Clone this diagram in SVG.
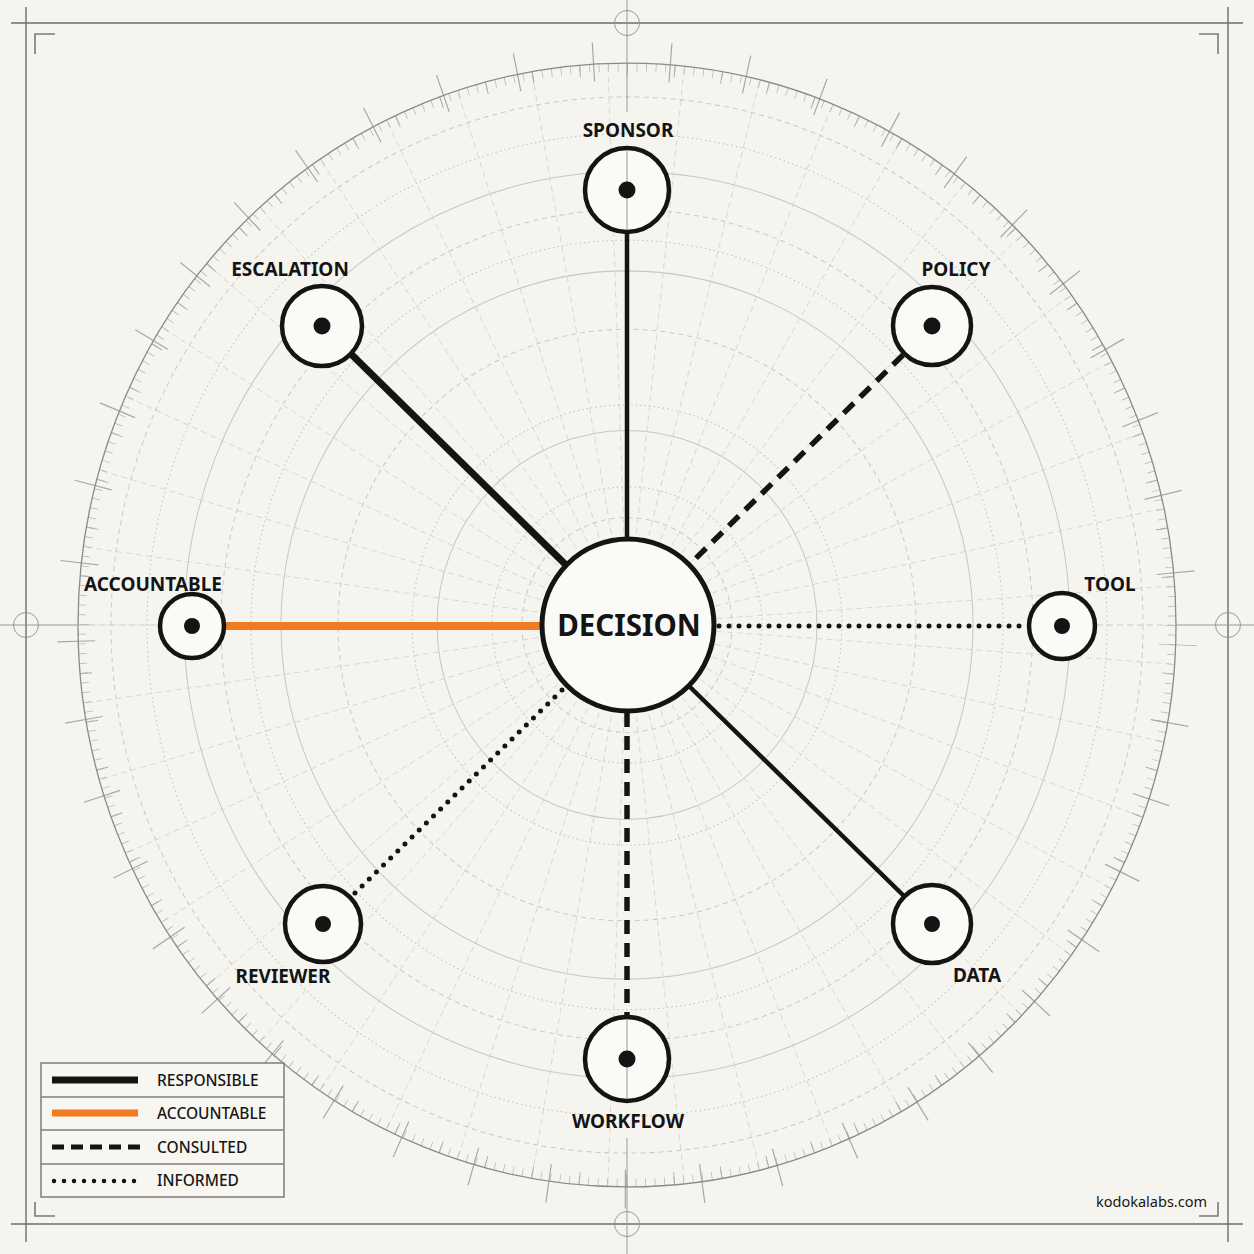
<svg xmlns="http://www.w3.org/2000/svg" xmlns:xlink="http://www.w3.org/1999/xlink" width="1254" height="1254" viewBox="0 0 1254 1254">
<style>
  .ring-s{fill:none;stroke:#c6c6c3;stroke-width:1}
  .ring-d{fill:none;stroke:#c9c9c6;stroke-width:1;stroke-dasharray:5 4}
  .ring-o{fill:none;stroke:#c0c0bc;stroke-width:1;stroke-dasharray:1.5 3}
  .ray{stroke:#d2d2ce;stroke-width:0.8;stroke-dasharray:6 4}
  .frame{stroke:#6e6e6e;stroke-width:1.4;fill:none}
  .bracket{stroke:#7a7a7a;stroke-width:1.6;fill:none}
  .axis{stroke:#8e8e8e;stroke-width:0.9;fill:none}
  .node{fill:#fbfaf7;stroke:#141414;stroke-width:4.5}
  .dot{fill:#141414}
  .lbl{font-family:"Noto Sans","Open Sans","Liberation Sans",sans-serif;font-weight:700;font-size:19px;fill:#141414;text-anchor:middle}
  .leg{font-family:"Noto Sans","Open Sans","Liberation Sans",sans-serif;font-weight:500;font-size:15.5px;fill:#161616}
  .resp{stroke:#141414;fill:none}
  .acc{stroke:#ef7b22;fill:none}
  .cons{stroke:#141414;fill:none;stroke-dasharray:14 9}
  .inf{stroke:#141414;fill:none;stroke-linecap:round;stroke-dasharray:0 10}
</style>
<defs>
  <line id="ray" x1="0" y1="0" x2="549" y2="0" class="ray"/>
</defs>
<rect width="1254" height="1254" fill="#f6f4ef"/>

<g id="frame">
  <line class="frame" x1="11" y1="23" x2="1243" y2="23"/>
  <line class="frame" x1="11" y1="1224" x2="1243" y2="1224"/>
  <line class="frame" x1="26" y1="7" x2="26" y2="1242"/>
  <line class="frame" x1="1228" y1="7" x2="1228" y2="1242"/>
  <path class="bracket" d="M35 54 V34 H55"/>
  <path class="bracket" d="M1199 34 H1218 V54"/>
  <path class="bracket" d="M35 1202 V1216 H55"/>
  <path class="bracket" d="M1199 1216 H1218 V1202"/>
  <circle class="axis" cx="627" cy="23" r="12.5" stroke="#6e6e6e"/>
  <circle class="axis" cx="627" cy="1224" r="12.5" stroke="#6e6e6e"/>
  <circle class="axis" cx="26" cy="625" r="12.5" stroke="#6e6e6e"/>
  <circle class="axis" cx="1228" cy="625" r="12.5" stroke="#6e6e6e"/>
</g>

<g id="grid" transform="translate(627 625) scale(1 1.0235)">
  <circle class="ring-d" r="105"/>
  <circle class="ring-o" r="135"/>
  <circle class="ring-s" r="190"/>
  <circle class="ring-o" r="215"/>
  <circle class="ring-d" r="289"/>
  <circle class="ring-s" r="346"/>
  <circle class="ring-o" r="376"/>
  <circle class="ring-d" r="406"/>
  <circle class="ring-s" r="443"/>
  <circle class="ring-o" r="480"/>
  <circle class="ring-d" r="516"/>
  <use href="#ray" transform="rotate(4)"/>
  <use href="#ray" transform="rotate(12)"/>
  <use href="#ray" transform="rotate(20)"/>
  <use href="#ray" transform="rotate(28)"/>
  <use href="#ray" transform="rotate(36)"/>
  <use href="#ray" transform="rotate(44)"/>
  <use href="#ray" transform="rotate(52)"/>
  <use href="#ray" transform="rotate(60)"/>
  <use href="#ray" transform="rotate(68)"/>
  <use href="#ray" transform="rotate(76)"/>
  <use href="#ray" transform="rotate(84)"/>
  <use href="#ray" transform="rotate(92)"/>
  <use href="#ray" transform="rotate(100)"/>
  <use href="#ray" transform="rotate(108)"/>
  <use href="#ray" transform="rotate(116)"/>
  <use href="#ray" transform="rotate(124)"/>
  <use href="#ray" transform="rotate(132)"/>
  <use href="#ray" transform="rotate(140)"/>
  <use href="#ray" transform="rotate(148)"/>
  <use href="#ray" transform="rotate(156)"/>
  <use href="#ray" transform="rotate(164)"/>
  <use href="#ray" transform="rotate(172)"/>
  <use href="#ray" transform="rotate(180)"/>
  <use href="#ray" transform="rotate(188)"/>
  <use href="#ray" transform="rotate(196)"/>
  <use href="#ray" transform="rotate(204)"/>
  <use href="#ray" transform="rotate(212)"/>
  <use href="#ray" transform="rotate(220)"/>
  <use href="#ray" transform="rotate(228)"/>
  <use href="#ray" transform="rotate(236)"/>
  <use href="#ray" transform="rotate(244)"/>
  <use href="#ray" transform="rotate(252)"/>
  <use href="#ray" transform="rotate(260)"/>
  <use href="#ray" transform="rotate(268)"/>
  <use href="#ray" transform="rotate(276)"/>
  <use href="#ray" transform="rotate(284)"/>
  <use href="#ray" transform="rotate(292)"/>
  <use href="#ray" transform="rotate(300)"/>
  <use href="#ray" transform="rotate(308)"/>
  <use href="#ray" transform="rotate(316)"/>
  <use href="#ray" transform="rotate(324)"/>
  <use href="#ray" transform="rotate(332)"/>
  <use href="#ray" transform="rotate(340)"/>
  <use href="#ray" transform="rotate(348)"/>
  <use href="#ray" transform="rotate(356)"/>
  <use href="#ray" transform="rotate(0)"/>
  <!-- minor ticks every 1 degree -->
  <circle r="545" fill="none" stroke="#b4b4b0" stroke-width="8" stroke-dasharray="0.7 8.812"/>
  <!-- mid ticks every 5 degrees -->
  <circle r="543" fill="none" stroke="#acaca8" stroke-width="12" stroke-dasharray="0.9 46.486" stroke-dashoffset="0.45"/>
  <!-- long ticks every 8 degrees -->
  <circle r="551" fill="none" stroke="#a8a8a4" stroke-width="38" stroke-dasharray="1.2 75.874" stroke-dashoffset="0.6" transform="rotate(2)"/>
  <circle r="549" fill="none" stroke="#8a8a86" stroke-width="1.3"/>
</g>

<g id="axes">
  <line class="axis" x1="0" y1="625" x2="78" y2="625" stroke="#7a7a7a"/>
  <line class="axis" x1="1176" y1="625" x2="1254" y2="625" stroke="#7a7a7a"/>
  <line class="ray" x1="78" y1="625" x2="158" y2="625"/>
  <line class="ray" x1="1097" y1="625" x2="1176" y2="625"/>
  <line class="axis" x1="627" y1="0" x2="627" y2="112"/>
  <line class="axis" x1="627" y1="1138" x2="627" y2="1254"/>
</g>

<g id="connectors">
  <line class="resp" x1="627" y1="233" x2="627" y2="539" stroke-width="4.5"/>
  <line class="resp" x1="351" y1="354" x2="566" y2="565" stroke-width="7"/>
  <line class="cons" x1="903" y1="355" x2="690" y2="564" stroke-width="5.5"/>
  <line class="inf" x1="719" y1="626" x2="1024" y2="626" stroke-width="5"/>
  <line class="resp" x1="690" y1="687" x2="904" y2="896" stroke-width="4.5"/>
  <line class="cons" x1="627" y1="713" x2="627" y2="1016" stroke-width="5.5"/>
  <line class="inf" x1="562" y1="690" x2="352" y2="896" stroke-width="5"/>
  <line class="acc" x1="225" y1="626" x2="542" y2="626" stroke-width="8"/>
</g>

<g id="node-sponsor">
  <circle class="node" cx="627" cy="190" r="42"/>
  <line class="axis" x1="627" y1="150" x2="627" y2="230"/>
  <circle class="dot" cx="627" cy="190" r="8.5"/>
  <text class="lbl" x="628" y="137">SPONSOR</text>
</g>
<g id="node-escalation">
  <circle class="node" cx="322" cy="326" r="40"/>
  <circle class="dot" cx="322" cy="326" r="8.5"/>
  <text class="lbl" x="290" y="276">ESCALATION</text>
</g>
<g id="node-policy">
  <circle class="node" cx="932" cy="326" r="39"/>
  <circle class="dot" cx="932" cy="326" r="8.5"/>
  <text class="lbl" x="956" y="276">POLICY</text>
</g>
<g id="node-accountable">
  <circle class="node" cx="192" cy="626" r="32"/>
  <circle class="dot" cx="192" cy="626" r="8"/>
  <text class="lbl" x="153" y="591">ACCOUNTABLE</text>
</g>
<g id="node-tool">
  <circle class="node" cx="1062" cy="626" r="33"/>
  <circle class="dot" cx="1062" cy="626" r="8"/>
  <text class="lbl" x="1110" y="591">TOOL</text>
</g>
<g id="node-reviewer">
  <circle class="node" cx="323" cy="924" r="38"/>
  <circle class="dot" cx="323" cy="924" r="8"/>
  <text class="lbl" x="283" y="983">REVIEWER</text>
</g>
<g id="node-data">
  <circle class="node" cx="932" cy="924" r="39"/>
  <circle class="dot" cx="932" cy="924" r="8"/>
  <text class="lbl" x="977" y="982">DATA</text>
</g>
<g id="node-workflow">
  <circle class="node" cx="627" cy="1059" r="42"/>
  <line class="axis" x1="627" y1="1019" x2="627" y2="1099"/>
  <circle class="dot" cx="627" cy="1059" r="8.5"/>
  <text class="lbl" x="628" y="1128">WORKFLOW</text>
</g>
<g id="node-decision">
  <circle cx="628" cy="625" r="86" fill="#fbfaf7" stroke="#141414" stroke-width="5"/>
  <text x="629" y="636" font-family="Noto Sans, Open Sans, Liberation Sans, sans-serif" font-weight="700" font-size="29.5" fill="#141414" text-anchor="middle">DECISION</text>
</g>

<g id="legend">
  <rect x="41" y="1063" width="243" height="134" fill="#f8f6f1" stroke="#7c7c7c" stroke-width="1.5"/>
  <line x1="41" y1="1097" x2="284" y2="1097" stroke="#7c7c7c" stroke-width="1.3"/>
  <line x1="41" y1="1130" x2="284" y2="1130" stroke="#7c7c7c" stroke-width="1.3"/>
  <line x1="41" y1="1164" x2="284" y2="1164" stroke="#7c7c7c" stroke-width="1.3"/>
  <line class="resp" x1="52" y1="1080" x2="138" y2="1080" stroke-width="7"/>
  <line class="acc" x1="52" y1="1113" x2="138" y2="1113" stroke-width="7"/>
  <line x1="52" y1="1147" x2="140" y2="1147" stroke="#141414" stroke-width="5" stroke-dasharray="12 7"/>
  <line class="inf" x1="54" y1="1181" x2="138" y2="1181" stroke-width="4.5" stroke-dasharray="0 10.5"/>
  <text class="leg" x="157" y="1086">RESPONSIBLE</text>
  <text class="leg" x="157" y="1119">ACCOUNTABLE</text>
  <text class="leg" x="157" y="1153">CONSULTED</text>
  <text class="leg" x="157" y="1186">INFORMED</text>
</g>

<text x="1207" y="1207" font-family="Noto Sans, Open Sans, Liberation Sans, sans-serif" font-size="14.5" fill="#161616" text-anchor="end">kodokalabs.com</text>
</svg>
